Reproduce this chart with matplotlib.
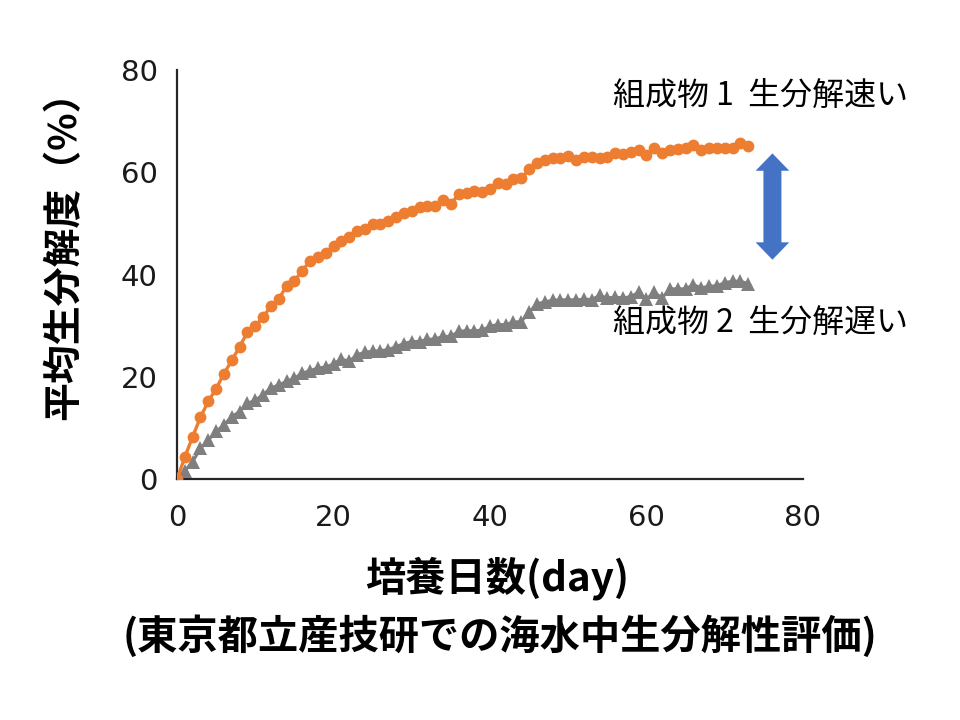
import matplotlib
matplotlib.use("Agg")
import matplotlib.pyplot as plt
from matplotlib.patches import Polygon

plt.rcParams['font.family'] = ['DejaVu Sans', 'Noto Sans CJK JP']

# days of incubation
days = [0, 1, 2, 3, 4, 5, 6, 7, 8, 9,
        10, 11, 12, 13, 14, 15, 16, 17, 18, 19,
        20, 21, 22, 23, 24, 25, 26, 27, 28, 29,
        30, 31, 32, 33, 34, 35, 36, 37, 38, 39,
        40, 41, 42, 43, 44, 45, 46, 47, 48, 49,
        50, 51, 52, 53, 54, 55, 56, 57, 58, 59,
        60, 61, 62, 63, 64, 65, 66, 67, 68, 69,
        70, 71, 72, 73]

# composition 1 (fast)
comp1 = [0, 4.3, 8.3, 12.1, 15.2, 17.7, 20.6, 23.2, 25.9, 28.7,
         29.9, 31.7, 33.8, 35.2, 37.8, 38.8, 40.7, 42.7, 43.4, 44.3,
         45.5, 46.6, 47.3, 48.6, 48.9, 49.9, 49.8, 50.4, 51.2, 52.1,
         52.5, 53.2, 53.5, 53.4, 54.5, 53.8, 55.7, 56.0, 56.3, 56.1,
         56.8, 58.0, 57.8, 58.6, 58.8, 60.6, 61.9, 62.4, 62.7, 62.7,
         63.1, 62.4, 62.9, 62.9, 62.7, 62.9, 63.7, 63.5, 64.0, 64.4,
         63.3, 64.8, 63.7, 64.4, 64.5, 64.8, 65.4, 64.4, 64.7, 64.7,
         64.7, 64.8, 65.8, 65.2]

# composition 2 (slow)
comp2 = [0, 1.6, 3.4, 6.0, 7.6, 9.3, 10.6, 12.2, 13.2, 14.8,
         15.4, 16.5, 17.8, 18.4, 19.1, 19.7, 20.7, 21.2, 21.7, 21.9,
         22.5, 23.5, 23.0, 24.3, 24.8, 25.0, 25.1, 25.3, 25.9, 26.5,
         26.9, 26.9, 27.3, 27.4, 27.9, 27.9, 28.9, 29.0, 29.0, 29.1,
         29.9, 30.2, 30.2, 30.7, 30.8, 32.6, 34.3, 34.6, 35.0, 35.0,
         35.1, 35.0, 35.2, 35.1, 35.9, 35.4, 35.6, 35.4, 35.7, 36.5,
         35.2, 36.5, 35.4, 37.2, 37.2, 37.2, 38.0, 37.4, 37.7, 37.8,
         38.4, 38.7, 38.7, 38.2]

ticks = [0, 20, 40, 60, 80]

ORANGE = "#ED7D31"
GRAY = "#7F7F7F"
BLUE = "#4472C4"
CJK = ['Noto Sans CJK JP', 'DejaVu Sans']

fig = plt.figure(figsize=(9.6, 7.2), dpi=100)
ax = fig.add_axes([0.1844, 0.3347, 0.652, 0.568])

ax.plot(days, comp2, color=GRAY, lw=2.2, marker="^", ms=9.5,
        markeredgewidth=0, zorder=3)
ax.plot(days, comp1, color=ORANGE, lw=2.4, marker="o", ms=8.5,
        markeredgewidth=0, zorder=4)

ax.set_xlim(0, 80)
ax.set_ylim(0, 80)
ax.set_xticks(ticks)
ax.set_yticks(ticks)
ax.tick_params(length=0, labelsize=21, pad=14, colors="#1a1a1a")
ax.tick_params(axis="x", pad=18)

for s in ["top", "right"]:
    ax.spines[s].set_visible(False)
for s in ["left", "bottom"]:
    ax.spines[s].set_color("#262626")
    ax.spines[s].set_linewidth(1.6)

ax.set_ylabel("平均生分解度（%）", fontsize=28, fontweight="bold", family=CJK)
ax.yaxis.set_label_coords(-0.150, 0.57)
ax.set_xlabel("培養日数(day)", fontsize=29, fontweight="bold", family=CJK)
ax.xaxis.set_label_coords(0.511, -0.19)
fig.text(0.521, 0.1153, "(東京都立産技研での海水中生分解性評価)", fontsize=29,
         fontweight="bold", family=CJK, ha="center", va="center")

# annotations
ax.text(55.7, 74.9, "組成物 1  生分解速い", fontsize=23, family=CJK,
        ha="left", va="center", clip_on=False)
ax.text(55.7, 30.6, "組成物 2  生分解遅い", fontsize=23, family=CJK,
        ha="left", va="center", clip_on=False)

# double-headed block arrow between the two curves
arr_x, arr_top, arr_bot = 76.1, 63.7, 42.9
shaft_hw, head_hw, head_len = 1.15, 2.15, 3.4
arrow_outline = [
    (arr_x, arr_top),
    (arr_x + head_hw, arr_top - head_len),
    (arr_x + shaft_hw, arr_top - head_len),
    (arr_x + shaft_hw, arr_bot + head_len),
    (arr_x + head_hw, arr_bot + head_len),
    (arr_x, arr_bot),
    (arr_x - head_hw, arr_bot + head_len),
    (arr_x - shaft_hw, arr_bot + head_len),
    (arr_x - shaft_hw, arr_top - head_len),
    (arr_x - head_hw, arr_top - head_len),
]
ax.add_patch(Polygon(arrow_outline, closed=True, facecolor=BLUE, lw=0,
                     clip_on=False, zorder=5))

fig.savefig("out.png", dpi=100)
